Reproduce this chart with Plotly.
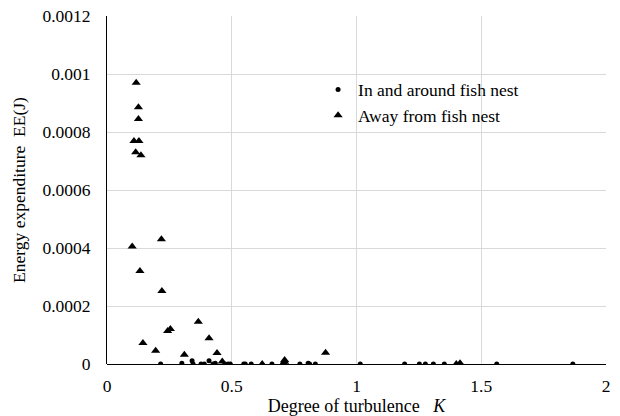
import plotly.graph_objects as go

# In and around fish nest (dots)
nest_k = [0.215, 0.30, 0.341, 0.345, 0.377, 0.390, 0.409, 0.425, 0.434, 0.472, 0.485, 0.494,
          0.548, 0.554, 0.578, 0.661, 0.704, 0.712, 0.773, 0.806, 0.812, 0.835,
          1.015, 1.193, 1.252, 1.276, 1.308, 1.352, 1.414, 1.562, 1.867]
nest_ee = [0.0, 0.000003, 0.000011, 0.0, 0.0, 0.0, 0.000011, 0.0, 0.000003, 0.0, 0.0, 0.0,
           0.0, 0.0, 0.0, 0.0, 0.0, 0.0, 0.0, 0.000003, 0.0, 0.0,
           0.0, 0.0, 0.0, 0.0, 0.0, 0.0, 0.0, 0.0, 0.0]

# Away from fish nest (triangles)
away_k = [0.117, 0.126, 0.126, 0.108, 0.128, 0.115, 0.136, 0.218, 0.101,
          0.132, 0.220, 0.366, 0.254, 0.243, 0.409, 0.144, 0.195, 0.310, 0.441,
          0.462, 0.622, 0.712, 0.712, 0.876, 1.400, 1.415]
away_ee = [0.00097, 0.000885, 0.000845, 0.000769, 0.000769, 0.00073, 0.00072, 0.00043, 0.000405,
           0.000321, 0.000252, 0.000146, 0.000121, 0.000114, 0.0000885, 0.0000724, 0.000046, 0.000032, 0.000038,
           0.000009, 0.0, 0.000014, 0.000008, 0.000039, 0.0, 0.000003]

x_ticks = [0, 0.5, 1, 1.5, 2]
x_tick_labels = ["0", "0.5", "1", "1.5", "2"]
y_ticks = [0, 0.0002, 0.0004, 0.0006, 0.0008, 0.001, 0.0012]
y_tick_labels = ["0", "0.0002", "0.0004", "0.0006", "0.0008", "0.001", "0.0012"]

font = "Liberation Serif"
NB = "\u00a0"

fig = go.Figure()
fig.add_trace(go.Scatter(x=nest_k, y=nest_ee, mode="markers", name="In and around fish nest",
                         marker=dict(symbol="circle", size=5, color="black")))
fig.add_trace(go.Scatter(x=away_k, y=away_ee, mode="markers", name="Away from fish nest",
                         marker=dict(symbol="triangle-up", size=8, color="black")))

fig.update_layout(
    width=620, height=416,
    margin=dict(l=107, r=14, t=16, b=52, autoexpand=False),
    paper_bgcolor="white", plot_bgcolor="white",
    font=dict(family=font, size=17.5, color="black"),
    showlegend=True,
    legend=dict(x=0.423, y=0.84, xanchor="left", yanchor="top", bgcolor="rgba(0,0,0,0)",
                font=dict(family=font, size=17.5), itemwidth=30, tracegroupgap=0),
    xaxis=dict(range=[0, 2], tickmode="array", tickvals=x_ticks, ticktext=x_tick_labels,
               showgrid=True, gridcolor="#d9d9d9", gridwidth=1, zeroline=False,
               showline=False, ticks="outside", ticklen=6, tickcolor="rgba(0,0,0,0)", automargin=False,
               title=dict(text="Degree of turbulence" + NB * 3 + "<i>K</i>", font=dict(family=font, size=18), standoff=1)),
    yaxis=dict(range=[0, 0.0012], tickmode="array", tickvals=y_ticks, ticktext=y_tick_labels,
               ticklabeloverflow="allow",
               showgrid=True, gridcolor="#d9d9d9", gridwidth=1, zeroline=True, zerolinecolor="black",
               zerolinewidth=1, showline=True, linecolor="black", linewidth=1,
               ticks="outside", ticklen=12, tickcolor="rgba(0,0,0,0)", automargin=False,
               title=dict(text="Energy expenditure" + NB * 2 + "EE(J)", font=dict(family=font, size=17.5), standoff=12)),
)

# remove the default 8px page margin so the 620x416 figure fills the window exactly
fig.write_html("out.html", config={"displayModeBar": False},
               post_script="document.body.style.margin='0';")
